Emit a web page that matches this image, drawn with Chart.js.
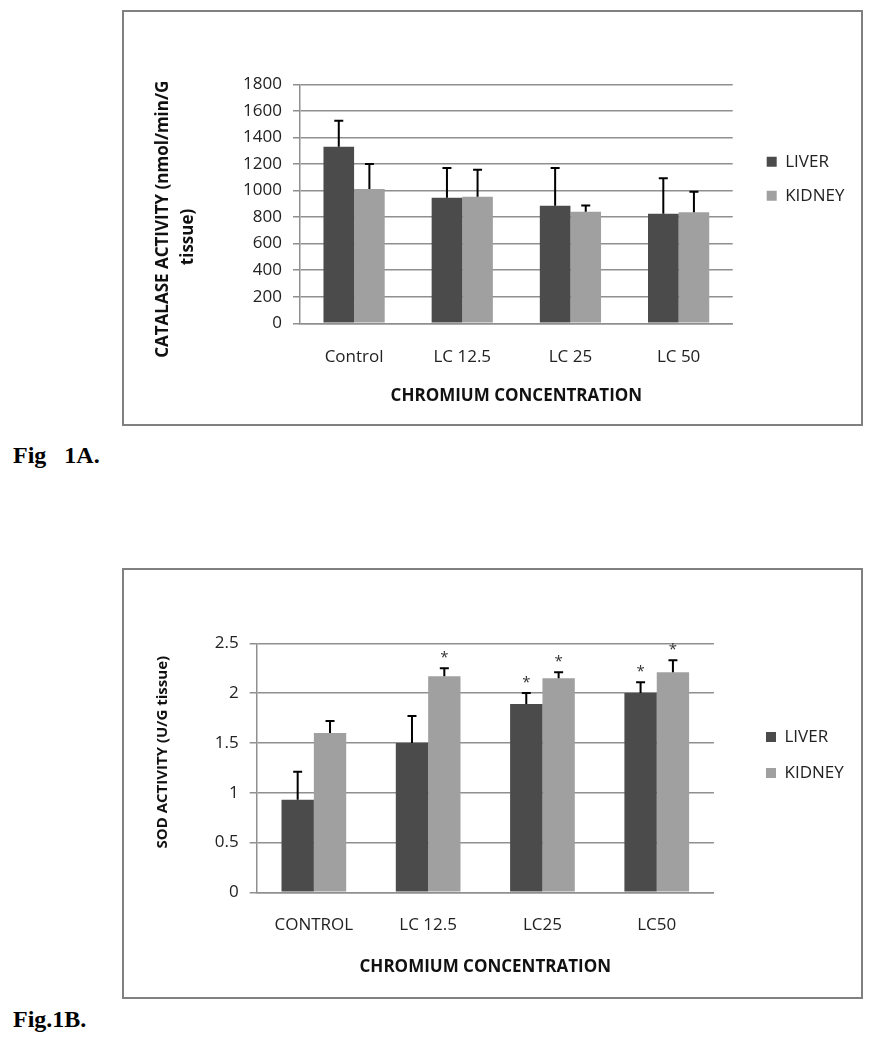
<!DOCTYPE html>
<html><head><meta charset="utf-8">
<script src="https://cdn.jsdelivr.net/npm/chart.js@4.4.1/dist/chart.umd.min.js"></script>
<style>
html,body{margin:0;padding:0;background:#fff;width:878px;height:1050px;overflow:hidden;}
.frame{position:absolute;left:122px;width:741px;box-sizing:border-box;border:2px solid #808080;background:#fff;}
#fa{top:10px;height:416px;}
#fb{top:568px;height:431px;}
.frame canvas{display:block;}
.fig{position:absolute;left:13px;font-family:"Liberation Serif","Times New Roman",serif;font-weight:bold;font-size:24px;white-space:pre;color:#000;line-height:24px;}
</style></head>
<body>
<div class="frame" id="fa"><canvas id="ca" width="737" height="412" style="width:737px;height:412px"></canvas></div>
<div class="fig" style="top:443px">Fig   1A.</div>
<div class="frame" id="fb"><canvas id="cb" width="737" height="427" style="width:737px;height:427px"></canvas></div>
<div class="fig" style="top:1007px">Fig.1B.</div>
<script>
// ---------- DATA ----------
const seriesNames = ['LIVER', 'KIDNEY'];
// Fig 1A — catalase
const catCategories = ['Control', 'LC 12.5', 'LC 25', 'LC 50'];
const catLiver = [1330, 946, 886, 825];
const catLiverSD = [195, 224, 284, 267];
const catKidney = [1011, 953, 840, 836];
const catKidneySD = [189, 204, 48, 155];
const catTicks = [0, 200, 400, 600, 800, 1000, 1200, 1400, 1600, 1800];
// Fig 1B — SOD
const sodCategories = ['CONTROL', 'LC 12.5', 'LC25', 'LC50'];
const sodLiver = [0.93, 1.50, 1.89, 2.00];
const sodLiverSD = [0.28, 0.27, 0.11, 0.11];
const sodKidney = [1.60, 2.17, 2.15, 2.21];
const sodKidneySD = [0.12, 0.08, 0.06, 0.12];
const sodLiverSig = [false, false, true, true];
const sodKidneySig = [false, true, true, true];
const sodTicks = [0, 0.5, 1, 1.5, 2, 2.5];

// ---------- STYLE ----------
const FONT = '"Open Sans", "Noto Sans", sans-serif';
const TXT = '#222222';
const GRID = '#8f8f8f';
const C_LIVER = '#4b4b4b';
const C_KIDNEY = '#a0a0a0';

const errorBars = {
  id: 'errorBars',
  afterDatasetsDraw(chart) {
    const ctx = chart.ctx, ys = chart.scales.y;
    chart.data.datasets.forEach((ds, di) => {
      const meta = chart.getDatasetMeta(di);
      meta.data.forEach((bar, i) => {
        const top = ys.getPixelForValue(ds.data[i] + ds.sd[i]);
        ctx.save();
        ctx.strokeStyle = '#000';
        ctx.lineWidth = 2;
        ctx.beginPath();
        ctx.moveTo(bar.x, bar.y);
        ctx.lineTo(bar.x, top);
        ctx.moveTo(bar.x - 4.5, top);
        ctx.lineTo(bar.x + 4.5, top);
        ctx.stroke();
        if (ds.sig && ds.sig[i]) {
          ctx.fillStyle = '#333';
          ctx.font = '15px ' + FONT;
          ctx.textAlign = 'center';
          ctx.textBaseline = 'alphabetic';
          ctx.fillText('*', bar.x, top - 15 + 9);
        }
        ctx.restore();
      });
    });
  }
};

const legendPin = {
  id: 'legendPin',
  afterLayout(chart, args, opts) {
    const lg = chart.legend;
    if (!lg) return;
    const lo = chart.options.plugins.legend.labels;
    const pad = lo.padding;
    const itemH = Math.max(lo.font.size, lo.boxHeight);
    const dx = opts.boxX - (lg.left + pad);
    lg.left += dx;
    lg.width = 120;
    lg.right = lg.left + lg.width;
    const dy = opts.firstY - (lg.top + pad + itemH / 2);
    lg.top += dy; lg.bottom += dy;
  }
};

function makeChart(id, cfg) {
  const ds = [
    { label: seriesNames[0], data: cfg.liver, sd: cfg.liverSD, sig: cfg.liverSig, backgroundColor: C_LIVER },
    { label: seriesNames[1], data: cfg.kidney, sd: cfg.kidneySD, sig: cfg.kidneySig, backgroundColor: C_KIDNEY }
  ];
  return new Chart(document.getElementById(id), {
    type: 'bar',
    data: { labels: cfg.categories, datasets: ds },
    plugins: [errorBars, legendPin],
    options: {
      responsive: false,
      animation: false,
      events: [],
      datasets: { bar: { categoryPercentage: 0.566, barPercentage: 1.0, borderWidth: 0 } },
      layout: { padding: { top: cfg.padTop, left: 0, bottom: 0, right: cfg.padRight } },
      plugins: {
        tooltip: { enabled: false },
        legend: {
          position: 'right',
          align: 'start',
          maxWidth: 60,
          labels: {
            boxWidth: 10, boxHeight: 10, padding: cfg.legendGap,
            color: TXT, font: { family: FONT, size: 17 }
          }
        },
        legendPin: { boxX: cfg.legendBoxX, firstY: cfg.legendFirstY }
      },
      scales: {
        x: {
          grid: { display: false, drawTicks: false },
          border: { display: true, color: GRID, width: 1.5 },
          ticks: { color: TXT, font: { family: FONT, size: 17 }, padding: cfg.xTickPad, maxRotation: 0 },
          title: { display: true, text: 'CHROMIUM CONCENTRATION', color: '#111',
                   font: { family: FONT, size: 17, weight: 'bold' }, padding: { top: 0, bottom: cfg.xTitlePadBottom } },
          afterFit(s) { s.height = cfg.xHeight; }
        },
        y: {
          min: cfg.ticks[0], max: cfg.ticks[cfg.ticks.length - 1],
          afterBuildTicks(s) { s.ticks = cfg.ticks.map(v => ({ value: v })); },
          grid: { color: GRID, lineWidth: 1.5, tickLength: 7, drawTicks: true },
          border: { display: true, color: GRID, width: 1.5 },
          ticks: { color: TXT, font: { family: FONT, size: 17 }, padding: 11, callback: v => String(v) },
          title: { display: true, text: cfg.yTitle, color: '#111',
                   font: { family: FONT, size: cfg.yTitleSize, weight: 'bold', lineHeight: 25 / cfg.yTitleSize },
                   padding: { top: 26.5, bottom: 0 } },
          afterFit(s) { s.width = cfg.yWidth; }
        }
      }
    }
  });
}

makeChart('ca', {
  categories: catCategories, liver: catLiver, liverSD: catLiverSD, kidney: catKidney, kidneySD: catKidneySD,
  ticks: catTicks,
  yTitle: ['CATALASE ACTIVITY (nmol/min/G       ', 'tissue)               '], yTitleSize: 17,
  padTop: 72.3, padRight: 68.3, yWidth: 176, xHeight: 100.7,
  xTickPad: 23.5, xTitlePadBottom: 17.5,
  legendGap: 17, legendBoxX: 642.7, legendFirstY: 149.7
});

makeChart('cb', {
  categories: sodCategories, liver: sodLiver, liverSD: sodLiverSD, liverSig: sodLiverSig,
  kidney: sodKidney, kidneySD: sodKidneySD, kidneySig: sodKidneySig,
  ticks: sodTicks, yTitle: '        SOD ACTIVITY (U/G tissue)', yTitleSize: 15,
  padTop: 73.3, padRight: 87.1, yWidth: 132.7, xHeight: 104.7,
  xTickPad: 23, xTitlePadBottom: 20,
  legendGap: 19, legendBoxX: 642, legendFirstY: 167
});
</script>
</body></html>
